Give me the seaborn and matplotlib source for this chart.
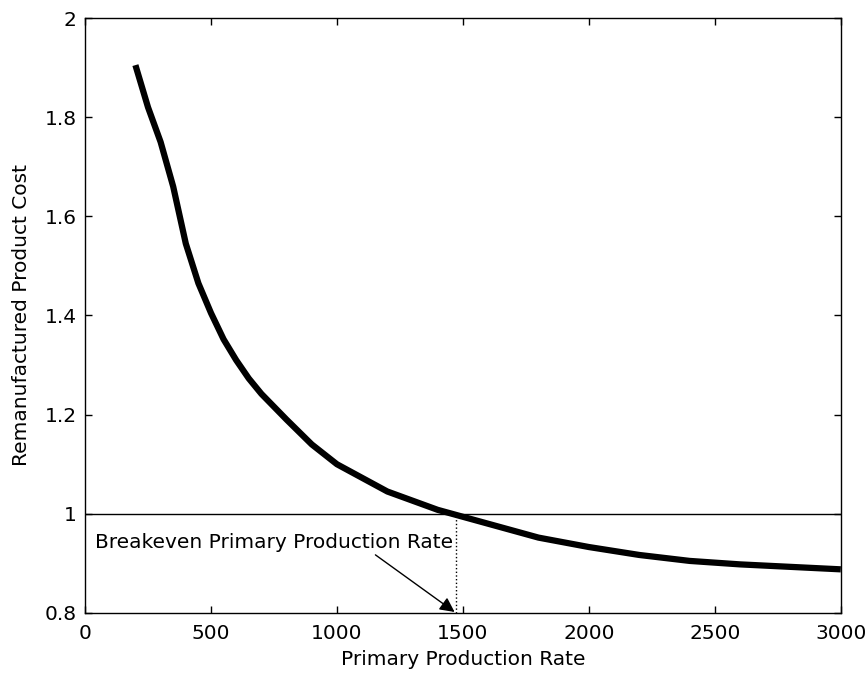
import numpy as np
import pandas as pd
import matplotlib
matplotlib.use("Agg")
import matplotlib.pyplot as plt
import seaborn as sns
from matplotlib.ticker import FuncFormatter

# values
rate = [200, 250, 300, 350, 400, 450, 500, 550, 600, 650, 700, 800, 900, 1000,
        1200, 1400, 1600, 1800, 2000, 2200, 2400, 2600, 2800, 3000]
cost = [1.905, 1.82, 1.75, 1.66, 1.545, 1.465, 1.405, 1.352, 1.31, 1.273,
        1.242, 1.19, 1.14, 1.10, 1.045, 1.008, 0.98, 0.952, 0.933, 0.917,
        0.905, 0.898, 0.893, 0.888]
breakeven_rate = 1472
breakeven_cost = 1.0
annotation = "Breakeven Primary Production Rate"

df = pd.DataFrame({"rate": rate, "cost": cost})

sns.set_style("ticks")
plt.rcParams['font.family'] = ['DejaVu Sans']
plt.rcParams['text.color'] = 'black'
plt.rcParams['axes.labelcolor'] = 'black'
fs = 14.5

fig = plt.figure(figsize=(8.65, 6.75), dpi=100)
ax = fig.add_axes([0.0983, 0.0919, 0.8737, 0.8814])

sns.lineplot(data=df, x="rate", y="cost", color="black", linewidth=4.5,
             ax=ax, solid_capstyle="butt")
ax.axhline(breakeven_cost, color="black", linewidth=1)
ax.plot([breakeven_rate, breakeven_rate], [0.8, breakeven_cost], color="black",
        linestyle=":", linewidth=1)
ax.annotate(annotation, xy=(breakeven_rate - 5, 0.802), xytext=(40, 0.943),
            fontsize=fs, va="center", ha="left", color="black",
            arrowprops=dict(arrowstyle="-|>", color="black", lw=1,
                            mutation_scale=22, shrinkA=0, shrinkB=0,
                            relpos=(0.77, 0.0)))

ax.set_xlim(0, 3000)
ax.set_ylim(0.8, 2)
ax.set_xticks(np.arange(0, 3001, 500))
ax.set_yticks(np.arange(0.8, 2.01, 0.2))
ax.yaxis.set_major_formatter(FuncFormatter(lambda v, p: "%g" % round(v, 2)))
ax.tick_params(direction="in", top=True, right=True, length=5, width=1,
               labelsize=fs, colors="black", pad=8)
ax.tick_params(axis="y", pad=6)
for s in ax.spines.values():
    s.set_visible(True)
    s.set_color("black")
    s.set_linewidth(1)
ax.set_xlabel("Primary Production Rate", fontsize=fs, labelpad=5)
ax.set_ylabel("Remanufactured Product Cost", fontsize=fs, labelpad=10)

fig.savefig("out.png", dpi=100)
